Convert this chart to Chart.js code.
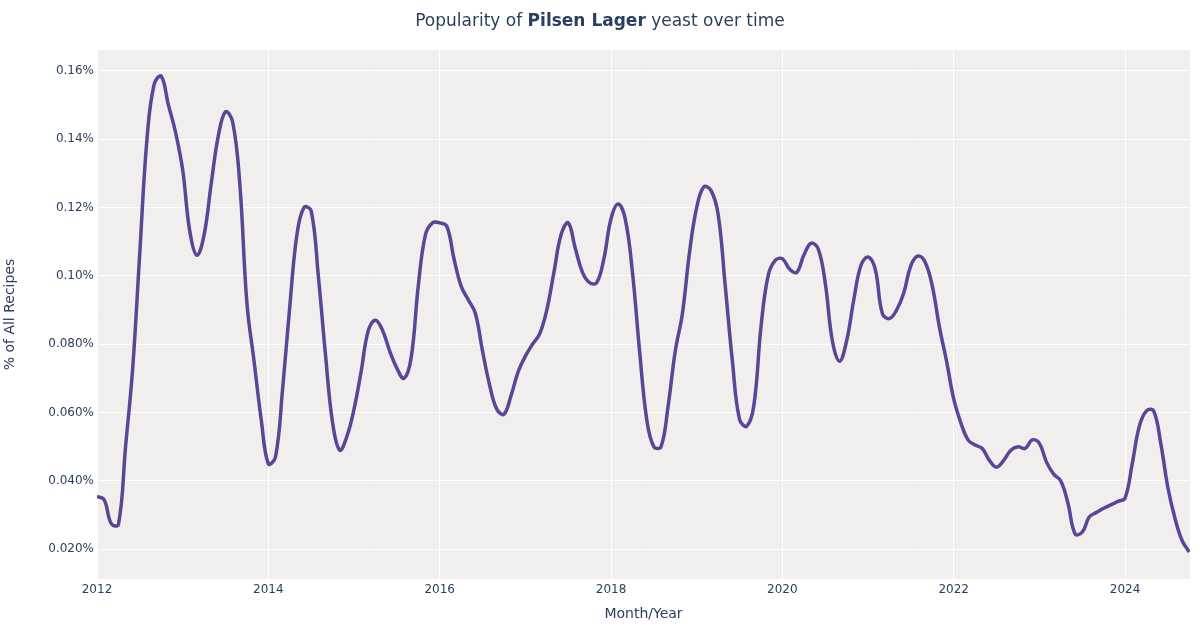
<!DOCTYPE html>
<html>
<head>
<meta charset="utf-8">
<script src="https://cdn.jsdelivr.net/npm/chart.js@4"></script>
<style>
  html, body { margin: 0; padding: 0; background: #ffffff; }
  #wrap { position: relative; width: 1200px; height: 630px; }
  #title { position: absolute; top: 8px; left: 0; width: 1200px; text-align: center;
           font-family: "DejaVu Sans", sans-serif; font-size: 17px; line-height: 24px; color: #2a3f5f; }
  canvas { position: absolute; top: 0; left: 0; }
</style>
</head>
<body>
<div id="wrap">
  <canvas id="c" width="1200" height="630"></canvas>
  <div id="title">Popularity of <b>Pilsen Lager</b> yeast over time</div>
</div>
<script>
// Monthly series starting January 2012 (one value per month), in percent of all recipes
const startYear = 2012;
const popularity = [
  0.0355, 0.0345, 0.0275, 0.0272, 0.050, 0.073, 0.107, 0.140, 0.156, 0.1584, 0.150, 0.142,
  0.131, 0.113, 0.106, 0.112, 0.127, 0.141, 0.148, 0.145, 0.127, 0.092, 0.075, 0.058,
  0.045, 0.047, 0.067, 0.091, 0.112, 0.120, 0.119, 0.100, 0.077, 0.057, 0.049, 0.053,
  0.061, 0.072, 0.084, 0.087, 0.084, 0.078, 0.073, 0.070, 0.076, 0.097, 0.112, 0.1155,
  0.1155, 0.1145, 0.105, 0.097, 0.093, 0.089, 0.078, 0.068, 0.061, 0.0595, 0.065, 0.072,
  0.0765, 0.080, 0.083, 0.090, 0.101, 0.112, 0.1155, 0.108, 0.101, 0.098, 0.098, 0.105,
  0.1167, 0.121, 0.1165, 0.101, 0.078, 0.058, 0.050, 0.050, 0.062, 0.078, 0.089, 0.107,
  0.120, 0.126, 0.125, 0.118, 0.097, 0.075, 0.058, 0.056, 0.062, 0.085, 0.100, 0.1045,
  0.105, 0.102, 0.101, 0.106, 0.1095, 0.108, 0.098, 0.081, 0.075, 0.081, 0.093, 0.103,
  0.1055, 0.102, 0.089, 0.0875, 0.090, 0.095, 0.103, 0.1058, 0.104, 0.097, 0.085, 0.075,
  0.064, 0.057, 0.052, 0.0505, 0.0495, 0.046, 0.044, 0.046, 0.049, 0.050, 0.0495, 0.052,
  0.051, 0.0455, 0.042, 0.040, 0.0335, 0.0245, 0.025, 0.0295, 0.0308, 0.032, 0.033, 0.034,
  0.035, 0.045, 0.056, 0.0605, 0.0605, 0.051, 0.038, 0.029, 0.0225, 0.0192
];
const xTickValues = [2012, 2014, 2016, 2018, 2020, 2022, 2024];
const xTickLabels = ["2012", "2014", "2016", "2018", "2020", "2022", "2024"];
const yTickValues = [0.02, 0.04, 0.06, 0.08, 0.10, 0.12, 0.14, 0.16];
const yTickLabels = ["0.020%", "0.040%", "0.060%", "0.080%", "0.10%", "0.12%", "0.14%", "0.16%"];

const points = popularity.map((v, i) => ({ x: startYear + i / 12, y: v }));

Chart.defaults.font.family = '"DejaVu Sans", sans-serif';
Chart.defaults.color = '#2a3f5f';

const plotBg = {
  id: 'plotBg',
  beforeDraw(chart) {
    const { ctx, chartArea: a } = chart;
    ctx.save();
    ctx.fillStyle = '#f0efee';
    ctx.fillRect(a.left, a.top, a.right - a.left, a.bottom - a.top);
    ctx.restore();
  }
};

new Chart(document.getElementById('c'), {
  type: 'line',
  data: {
    datasets: [{
      data: points,
      borderColor: '#5b4596',
      borderWidth: 3.5,
      pointRadius: 0,
      tension: 0.4,
      fill: false
    }]
  },
  options: {
    responsive: false,
    animation: false,
    layout: { padding: { top: 50, right: 10, left: 0, bottom: 3 } },
    plugins: { legend: { display: false }, tooltip: { enabled: false } },
    scales: {
      x: {
        type: 'linear',
        min: 2012,
        max: 2024.758,
        afterBuildTicks(scale) { scale.ticks = xTickValues.map(v => ({ value: v })); },
        afterFit(scale) { scale.height = 48; },
        ticks: {
          font: { size: 12 },
          padding: 4,
          maxRotation: 0,
          callback: (v) => { const i = xTickValues.indexOf(v); return i >= 0 ? xTickLabels[i] : ''; }
        },
        grid: { color: '#ffffff', lineWidth: 1, drawTicks: false },
        border: { display: false },
        title: { display: true, text: 'Month/Year', font: { size: 14 }, padding: { top: 4, bottom: 4 } }
      },
      y: {
        type: 'linear',
        min: 0.01131,
        max: 0.16606,
        afterBuildTicks(scale) { scale.ticks = yTickValues.map(v => ({ value: v })); },
        afterFit(scale) { scale.width = 97; },
        ticks: {
          font: { size: 12 },
          padding: 3,
          callback: (v) => {
            const i = yTickValues.findIndex(t => Math.abs(t - v) < 1e-9);
            return i >= 0 ? yTickLabels[i] : '';
          }
        },
        grid: { color: '#ffffff', lineWidth: 1, drawTicks: false },
        border: { display: false },
        title: { display: true, text: '% of All Recipes', font: { size: 14 }, padding: { top: 2, bottom: 4 } }
      }
    }
  },
  plugins: [plotBg]
});
</script>
</body>
</html>
